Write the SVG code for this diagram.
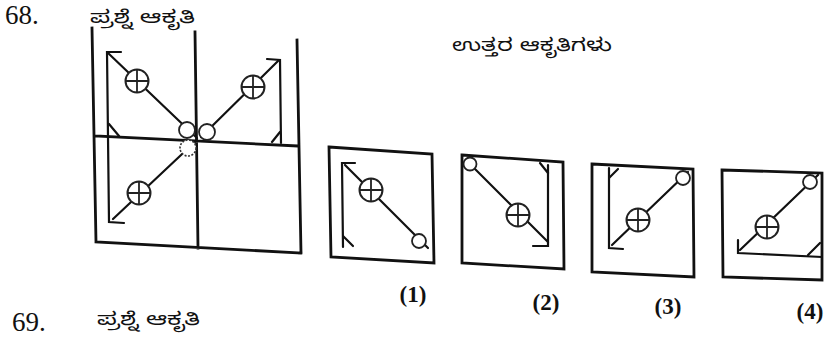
<svg xmlns="http://www.w3.org/2000/svg" xmlns:xlink="http://www.w3.org/1999/xlink" width="827" height="338" viewBox="0 0 827 338">
<style>
.ln{fill:none;stroke:#111;stroke-width:2.8;stroke-linecap:square;stroke-linejoin:miter}
.in{fill:none;stroke:#111;stroke-width:2.2;stroke-linecap:round}
.sc{fill:#fff;stroke:#222;stroke-width:1.8}
.dc{fill:#fff;stroke:#333;stroke-width:1.6;stroke-dasharray:2 1.5}
.num{font-family:"Liberation Serif",serif;fill:#111}
.lab{font-family:"Liberation Serif",serif;fill:#111;font-size:23px;font-weight:bold;text-anchor:middle}
.kn{font-family:"Noto Sans Kannada","Noto Sans","Noto Sans CJK SC",sans-serif;fill:#111;font-size:18px}
</style>
<defs>
<g id="cc">
<circle r="11.5" fill="#fff" stroke="#222" stroke-width="2"/>
<path d="M-11.5,0H11.5M0,-11.5V11.5" stroke="#222" stroke-width="1.8"/>
</g>
</defs>

<g id="labels">
<text class="num" x="5" y="24" font-size="27">68.</text>
<text class="kn" x="90" y="23" textLength="105" lengthAdjust="spacingAndGlyphs">ಪ್ರಶ್ನೆ ಆಕೃತಿ</text>
<text class="kn" x="452" y="51" font-size="20" textLength="160" lengthAdjust="spacingAndGlyphs">ಉತ್ತರ ಆಕೃತಿಗಳು</text>
<text class="num" x="12" y="331" font-size="27">69.</text>
<text class="kn" x="97" y="325" font-size="14" textLength="103" lengthAdjust="spacingAndGlyphs">ಪ್ರಶ್ನೆ ಆಕೃತಿ</text>
</g>

<g id="question">
<path class="ln" d="M92,28L96,242M195,32L198,248M297,40L301,253M95,136L298,146M96,242L301,253"/>
<polyline class="in" points="121,52 107,52 109,222 124,223"/>
<path class="in" d="M108,53L197,138M201,137L278,61M197,140L113,219M109,124L119,136M272,142L280,132"/>
<polyline class="in" points="267,59 280,60 281,143"/>
<use xlink:href="#cc" x="137" y="81"/>
<use xlink:href="#cc" x="253" y="87"/>
<use xlink:href="#cc" x="139" y="193"/>
<circle class="sc" cx="187" cy="130" r="8"/>
<circle class="sc" cx="207" cy="132" r="8"/>
<circle class="dc" cx="188" cy="148" r="8"/>
</g>

<g id="answer1">
<polygon class="ln" points="329,147 432,154 434,263 331,257"/>
<polyline class="in" points="355,163 342,163 343,247"/>
<path class="in" d="M343,236L353,246M345,165L428,248"/>
<use xlink:href="#cc" x="371" y="190"/>
<circle class="sc" cx="419" cy="241" r="7"/>
<text class="lab" x="413" y="302">(1)</text>
</g>

<g id="answer2">
<polygon class="ln" points="462,155 563,162 564,269 462,263"/>
<path class="in" d="M466,160L548,242M540,163L548,173"/>
<polyline class="in" points="548,165 548,246 533,246"/>
<circle class="sc" cx="470" cy="164" r="6.5"/>
<use xlink:href="#cc" x="518" y="215"/>
<text class="lab" x="546" y="310">(2)</text>
</g>

<g id="answer3">
<polygon class="ln" points="592,164 693,169 694,277 592,272"/>
<polyline class="in" points="609,168 609,248 623,249"/>
<path class="in" d="M609,178L618,169M612,245L688,172"/>
<use xlink:href="#cc" x="638" y="220"/>
<circle class="sc" cx="683" cy="178" r="7"/>
<text class="lab" x="668" y="314">(3)</text>
</g>

<g id="answer4">
<polygon class="ln" points="722,170 822,173 822,280 723,277"/>
<polyline class="in" points="738,240 738,253 822,257"/>
<path class="in" d="M740,250L818,175M808,255L820,243"/>
<use xlink:href="#cc" x="767" y="227"/>
<circle class="sc" cx="810" cy="182" r="7"/>
<text class="lab" x="810" y="319">(4)</text>
</g>
</svg>
